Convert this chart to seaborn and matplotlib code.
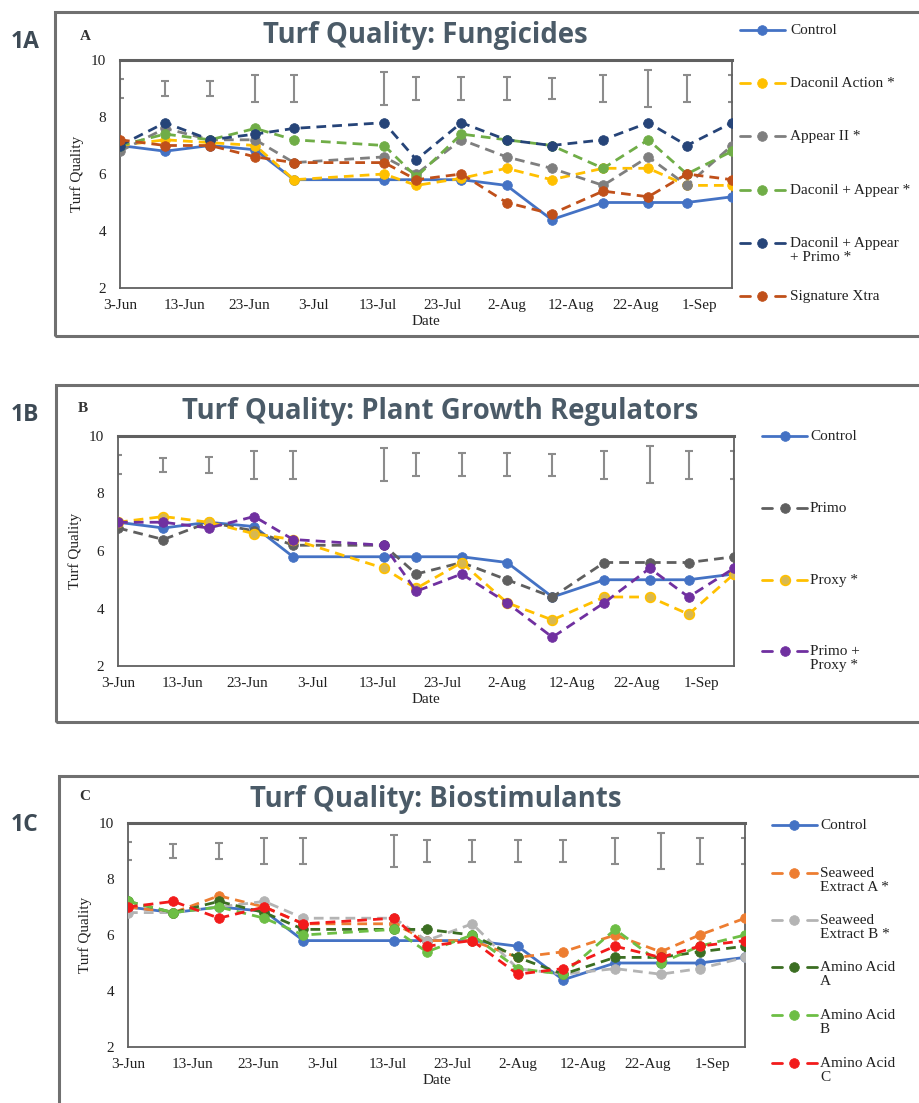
import matplotlib
matplotlib.use("Agg")
import matplotlib.pyplot as plt
from matplotlib.lines import Line2D
from matplotlib.patches import Rectangle
import seaborn as sns
import pandas as pd

sns.set_theme(style="white")
plt.rcParams['font.family'] = ['Liberation Serif', 'DejaVu Serif']

# ---------------- data ----------------
dates = pd.to_datetime(["2019-06-03", "2019-06-10", "2019-06-17", "2019-06-24", "2019-06-30",
                        "2019-07-14", "2019-07-19", "2019-07-26", "2019-08-02", "2019-08-09",
                        "2019-08-17", "2019-08-24", "2019-08-30", "2019-09-06"])
tick_dates = pd.to_datetime(["2019-06-03", "2019-06-13", "2019-06-23", "2019-07-03", "2019-07-13",
                             "2019-07-23", "2019-08-02", "2019-08-12", "2019-08-22", "2019-09-01"])
tick_labels = ["3-Jun", "13-Jun", "23-Jun", "3-Jul", "13-Jul", "23-Jul", "2-Aug", "12-Aug", "22-Aug", "1-Sep"]

# LSD-style error bars drawn near the top of each panel
lsd_center = [9.0, 9.0, 9.0, 9.0, 9.0, 9.0, 9.0, 9.0, 9.0, 9.0, 9.0, 9.0, 9.0, 9.0]
lsd_half = [0.33, 0.25, 0.27, 0.48, 0.48, 0.57, 0.40, 0.40, 0.40, 0.38, 0.48, 0.64, 0.48, 0.48]

control = [7.0, 6.8, 7.0, 6.85, 5.8, 5.8, 5.8, 5.8, 5.6, 4.4, 5.0, 5.0, 5.0, 5.2]

# Panel A: Fungicides
daconil_action = [7.0, 7.2, 7.1, 7.0, 5.8, 6.0, 5.6, 5.85, 6.2, 5.8, 6.2, 6.2, 5.6, 5.6]
appear_ii = [6.8, 7.6, 7.2, 7.2, 6.4, 6.6, 6.0, 7.2, 6.6, 6.2, 5.6, 6.6, 5.6, 7.0]
daconil_appear = [7.0, 7.4, 7.2, 7.6, 7.2, 7.0, 5.9, 7.4, 7.2, 7.0, 6.2, 7.2, 6.0, 6.8]
daconil_appear_primo = [7.0, 7.8, 7.2, 7.4, 7.6, 7.8, 6.5, 7.8, 7.2, 7.0, 7.2, 7.8, 7.0, 7.8]
signature_xtra = [7.2, 7.0, 7.0, 6.6, 6.4, 6.4, 5.8, 6.0, 5.0, 4.6, 5.4, 5.2, 6.0, 5.8]

# Panel B: Plant Growth Regulators
primo = [6.8, 6.4, 7.0, 6.7, 6.2, 6.2, 5.2, 5.6, 5.0, 4.4, 5.6, 5.6, 5.6, 5.8]
proxy = [7.0, 7.2, 7.0, 6.6, 6.4, 5.4, 4.7, 5.6, 4.2, 3.6, 4.4, 4.4, 3.8, 5.2]
primo_proxy = [7.0, 7.0, 6.8, 7.2, 6.4, 6.2, 4.6, 5.2, 4.2, 3.0, 4.2, 5.4, 4.4, 5.4]

# Panel C: Biostimulants
seaweed_a = [7.0, 6.8, 7.4, 7.0, 6.4, 6.4, 5.8, 5.8, 5.2, 5.4, 6.0, 5.4, 6.0, 6.6]
seaweed_b = [6.8, 6.8, 7.0, 7.2, 6.6, 6.6, 5.8, 6.4, 4.8, 4.6, 4.8, 4.6, 4.8, 5.2]
amino_a = [7.2, 6.8, 7.2, 6.8, 6.2, 6.2, 6.2, 6.0, 5.2, 4.6, 5.2, 5.2, 5.4, 5.6]
amino_b = [7.2, 6.8, 7.0, 6.6, 6.0, 6.2, 5.4, 6.0, 4.8, 4.6, 6.2, 5.0, 5.6, 6.0]
amino_c = [7.0, 7.2, 6.6, 7.0, 6.4, 6.6, 5.6, 5.8, 4.6, 4.8, 5.6, 5.2, 5.6, 5.8]

panels = [
    dict(tag="1A", letter="A", title="Turf Quality: Fungicides",
         series=[("Control", control, "#4472C4", False, "#4472C4"),
                 ("Daconil Action *", daconil_action, "#FFC000", True, "#FFC000"),
                 ("Appear II *", appear_ii, "#7F7F7F", True, "#7F7F7F"),
                 ("Daconil + Appear *", daconil_appear, "#70AD47", True, "#70AD47"),
                 ("Daconil + Appear\n+ Primo *", daconil_appear_primo, "#264478", True, "#264478"),
                 ("Signature Xtra", signature_xtra, "#C0501A", True, "#C0501A")],
         box=(55, 12, 336), ax=(120, 732, 60, 288),
         leg=(740, 785, 790, [30, 83, 136, 190, 243, 296]),
         tag_y=42, letter_xy=(85, 37), title_xy=(425, 36)),
    dict(tag="1B", letter="B", title="Turf Quality: Plant Growth Regulators",
         series=[("Control", control, "#4472C4", False, "#4472C4"),
                 ("Primo", primo, "#5F5F5F", True, "#5F5F5F"),
                 ("Proxy *", proxy, "#FFC000", True, "#D8B850"),
                 ("Primo +\nProxy *", primo_proxy, "#7030A0", True, "#7030A0")],
         box=(56, 385, 722), ax=(118, 734, 436, 666),
         leg=(762, 807, 810, [436, 508, 580, 651]),
         tag_y=415, letter_xy=(83, 408), title_xy=(440, 412)),
    dict(tag="1C", letter="C", title="Turf Quality: Biostimulants",
         series=[("Control", control, "#4472C4", False, "#4472C4"),
                 ("Seaweed\nExtract A *", seaweed_a, "#ED7D31", True, "#ED7D31"),
                 ("Seaweed\nExtract B *", seaweed_b, "#B4B4B4", True, "#B4B4B4"),
                 ("Amino Acid\nA", amino_a, "#3B6E22", True, "#3B6E22"),
                 ("Amino Acid\nB", amino_b, "#6DBE45", True, "#6DBE45"),
                 ("Amino Acid\nC", amino_c, "#F21B1B", True, "#F21B1B")],
         box=(59, 776, 1120), ax=(128, 745, 823, 1047),
         leg=(772, 817, 820, [825, 873, 920, 967, 1015, 1063]),
         tag_y=825, letter_xy=(85, 797), title_xy=(436, 800)),
]

W, H = 920, 1103
fig = plt.figure(figsize=(W / 100, H / 100), dpi=100)
fig.patch.set_facecolor("white")

def fx(x):
    return x / W

def fy(y):
    return 1 - y / H

title_color = "#4B5B68"
DASH = (3.5, 2.2)

for p in panels:
    bx, btop, bbot = p["box"]
    fig.patches.append(Rectangle((fx(bx), fy(bbot)), fx(W + 40 - bx), (bbot - btop) / H,
                                 transform=fig.transFigure, fill=False,
                                 edgecolor="#707070", linewidth=2.2, zorder=0))
    fig.text(fx(25), fy(p["tag_y"]), p["tag"], ha="center", va="center", fontsize=16.5,
             fontweight="bold", color="#3D4A55", family=["Open Sans", "DejaVu Sans"])
    fig.text(fx(p["letter_xy"][0]), fy(p["letter_xy"][1]), p["letter"], ha="center", va="center",
             fontsize=11, fontweight="bold", color="#333333")
    fig.text(fx(p["title_xy"][0]), fy(p["title_xy"][1]), p["title"], ha="center", va="center",
             fontsize=19.8, fontweight="bold", color=title_color, family=["Open Sans", "DejaVu Sans"])

    l, r, t, b = p["ax"]
    ax = fig.add_axes([fx(l), fy(b), (r - l) / W, (b - t) / H])
    ax.set_facecolor("white")

    ax.errorbar(dates, lsd_center, yerr=lsd_half, fmt="none", ecolor="#8C8C8C",
                elinewidth=1.5, capsize=3, capthick=1.5, zorder=2)

    for name, vals, col, dashed, face in p["series"]:
        kw = dict(x=dates, y=vals, ax=ax, color=col, linewidth=2.0, marker="o",
                  markersize=7, markeredgecolor=col, markerfacecolor=face,
                  markeredgewidth=1.2 if face != col else 0.5, zorder=3)
        sns.lineplot(**kw)
        if dashed:
            ax.lines[-1].set_dashes(DASH)

    ax.set_xlim(dates[0], dates[-1])
    ax.set_ylim(2, 10)
    ax.set_yticks([2, 4, 6, 8, 10])
    ax.set_yticklabels(["2", "4", "6", "8", "10"], fontsize=11, color="#222222")
    ax.set_xticks(tick_dates)
    ax.set_xticklabels(tick_labels, fontsize=11, color="#222222")
    ax.tick_params(axis="x", direction="in", length=4, width=1, color="#595959", pad=8)
    ax.tick_params(axis="y", length=0, pad=10)
    ax.set_xlabel("Date", fontsize=11, color="#222222", labelpad=2)
    ax.set_ylabel("Turf Quality", fontsize=11, color="#222222", labelpad=5)
    for s in ["left", "bottom", "right"]:
        ax.spines[s].set_color("#606060")
        ax.spines[s].set_linewidth(1.3)
        ax.spines[s].set_visible(True)
    ax.spines["top"].set_color("#606060")
    ax.spines["top"].set_linewidth(2.2)
    ax.spines["top"].set_visible(True)
    ax.grid(False)
    if ax.get_legend():
        ax.get_legend().remove()

    # manual legend
    x0, x1, tx, ys = p["leg"]
    xm = (x0 + x1) / 2
    for (name, vals, col, dashed, face), yy in zip(p["series"], ys):
        if dashed:
            seg = (x1 - x0) * 0.22
            for a, bb in [(x0, x0 + seg), (x1 - seg, x1)]:
                fig.add_artist(Line2D([fx(a), fx(bb)], [fy(yy), fy(yy)], transform=fig.transFigure,
                                      color=col, linewidth=2.0))
        else:
            fig.add_artist(Line2D([fx(x0), fx(x1)], [fy(yy), fy(yy)], transform=fig.transFigure,
                                  color=col, linewidth=2.0))
        fig.add_artist(Line2D([fx(xm)], [fy(yy)], transform=fig.transFigure, marker="o",
                              markersize=7, color=col, markerfacecolor=face,
                              markeredgecolor=col, markeredgewidth=1.2 if face != col else 0.5))
        fig.text(fx(tx), fy(yy - 6), name, ha="left", va="top", fontsize=11,
                 color="#222222", linespacing=1.1)

fig.savefig("out.png", dpi=100, facecolor="white")
